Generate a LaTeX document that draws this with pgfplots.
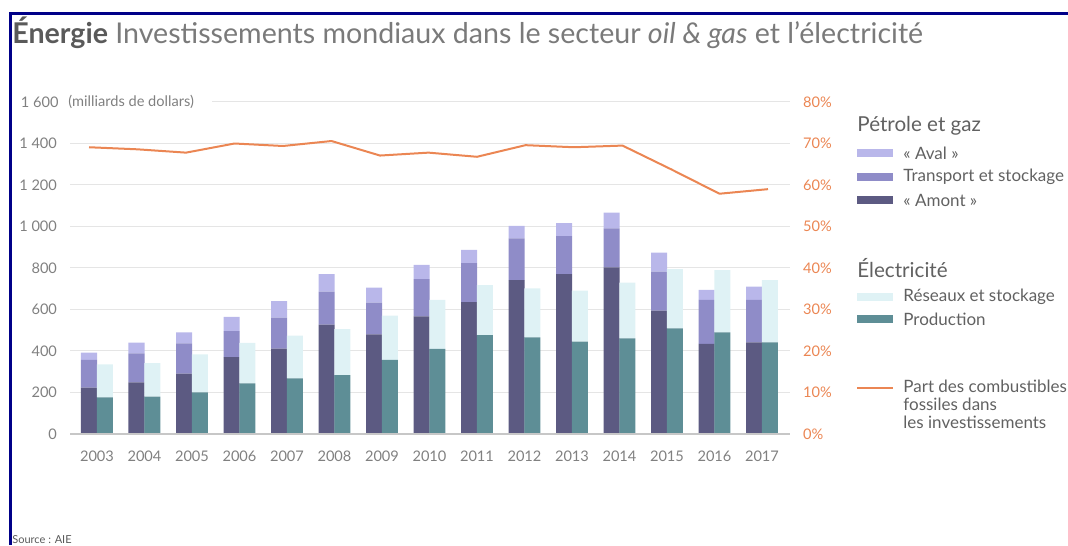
\documentclass[border=0pt]{standalone}
\usepackage{fontspec}
\setmainfont{Lato}
\usepackage{pgfplots}
\pgfplotsset{compat=1.18}

\definecolor{amont}{HTML}{5C5A82}
\definecolor{transp}{HTML}{8F8CC8}
\definecolor{aval}{HTML}{B9B7EA}
\definecolor{prod}{HTML}{5E8E96}
\definecolor{reseau}{HTML}{DFF2F5}
\definecolor{ligne}{HTML}{EB8653}
\definecolor{tickgray}{HTML}{808080}
\definecolor{frameblue}{HTML}{000088}

\newcommand{\tickfont}{\fontsize{7.3}{9}\selectfont}
\newcommand{\legfont}{\fontsize{8.5}{10}\selectfont}
\newcommand{\headfont}{\fontsize{10.3}{12}\selectfont}

\begin{document}
\begin{tikzpicture}[x=0.5pt,y=0.5pt]
\useasboundingbox (0,0) rectangle (1068,545);
% frame
\draw[frameblue,line width=1.5pt] (10.5,0) -- (10.5,531.5) -- (1068,531.5);

% title
\node[anchor=west,font=\fontsize{14.3}{16}\selectfont,inner sep=0pt] at (12,512)
  {\textcolor[HTML]{5A5A5A}{\bfseries Énergie} \textcolor[HTML]{7A7A7A}{Investissements mondiaux dans le secteur \textit{oil \& gas} et l'électricité}};

% oil & gas: amont, transport, aval (stacked increments, milliards $)
\begin{axis}[
  at={(35pt,55.5pt)}, anchor=south west,
  scale only axis, width=360pt, height=166pt,
  xmin=-0.568, xmax=14.59, ymin=0, ymax=1600,
  ybar stacked, bar width=0.337, bar shift=-0.168,
  axis line style={draw=none}, tick style={draw=none},
  ytick={0,200,...,1400},
  yticklabels={0,200,400,600,800,1 000,1 200,1 400},
  ymajorgrids, grid style={draw=black!10, line width=0.5pt},
  xtick={0,...,14},
  xticklabels={2003,2004,2005,2006,2007,2008,2009,2010,2011,2012,2013,2014,2015,2016,2017},
  ticklabel style={font=\tickfont, text=tickgray},
  yticklabel style={xshift=-3pt},
  xticklabel style={yshift=-5pt},
]
\addplot[fill=amont, draw=none] coordinates {(0,223) (1,249) (2,291) (3,370) (4,411) (5,527) (6,480) (7,567) (8,635) (9,742) (10,770) (11,803) (12,594) (13,434) (14,442)};
\addplot[fill=transp, draw=none] coordinates {(0,134) (1,140) (2,146) (3,126) (4,150) (5,159) (6,153) (7,179) (8,188) (9,201) (10,184) (11,188) (12,188) (13,212) (14,204)};
\addplot[fill=aval, draw=none] coordinates {(0,35) (1,51) (2,53) (3,69) (4,79) (5,84) (6,72) (7,69) (8,64) (9,60) (10,62) (11,76) (12,92) (13,48) (14,64)};
\end{axis}

% electricity: production, réseaux et stockage
\begin{axis}[
  at={(35pt,55.5pt)}, anchor=south west,
  scale only axis, width=360pt, height=166pt,
  xmin=-0.568, xmax=14.59, ymin=0, ymax=1600,
  ybar stacked, bar width=0.337, bar shift=0.168,
  hide axis,
]
\addplot[fill=prod, draw=none] coordinates {(0,177) (1,180) (2,201) (3,244) (4,268) (5,284) (6,357) (7,410) (8,477) (9,466) (10,445) (11,461) (12,509) (13,490) (14,442)};
\addplot[fill=reseau, draw=none] coordinates {(0,159) (1,161) (2,183) (3,195) (4,206) (5,222) (6,213) (7,236) (8,241) (9,236) (10,246) (11,268) (12,285) (13,300) (14,300)};
\end{axis}

% baseline and top grid line
\draw[black!22, line width=1pt] (70,111) -- (790,111);
\draw[black!10, line width=0.5pt] (212,443) -- (790,443);
\node[anchor=east, font=\tickfont, text=tickgray, inner sep=0pt] at (59,443) {1 600};
\node[anchor=west, font=\tickfont, text=tickgray, inner sep=0pt] at (68,443) {(milliards de dollars)};

% share of fossil fuels in investments (%)
\begin{axis}[
  at={(35pt,55.5pt)}, anchor=south west,
  scale only axis, width=360pt, height=166pt,
  xmin=-0.392, xmax=14.454, ymin=0, ymax=80,
  hide x axis, axis y line*=right,
  y axis line style={draw=none}, tick style={draw=none},
  ytick={0,10,...,80},
  yticklabel={\pgfmathprintnumber{\tick}\%},
  /pgf/number format/assume math mode=true,
  yticklabel style={font=\tickfont, text=ligne, xshift=3pt},
]
\addplot[ligne, line width=1pt] coordinates {(0,69.1) (1,68.6) (2,67.8) (3,70.0) (4,69.4) (5,70.6) (6,67.1) (7,67.8) (8,66.8) (9,69.6) (10,69.1) (11,69.5) (12,63.8) (13,57.9) (14,59.0)};
\end{axis}

% legend
\begin{scope}[every node/.style={anchor=west, inner sep=0pt, text=black!62}]
\node[font=\headfont] at (857,419) {Pétrole et gaz};
\fill[aval] (857,388) rectangle (893,396);
\node[font=\legfont] at (903,392) {« Aval »};
\fill[transp] (857,364) rectangle (893,372);
\node[font=\legfont] at (903,368) {Transport et stockage};
\fill[amont] (857,341) rectangle (893,349);
\node[font=\legfont] at (903,345) {« Amont »};
\node[font=\headfont] at (857,277) {Électricité};
\fill[reseau] (857,244) rectangle (893,252);
\node[font=\legfont] at (903,248) {Réseaux et stockage};
\fill[prod] (857,222) rectangle (893,230);
\node[font=\legfont] at (903,226) {Production};
\draw[ligne, line width=1pt] (857,157) -- (893,157);
\node[font=\legfont, align=left, anchor=north west] at (903,165)
  {Part des combustibles\\[-1pt]fossiles dans\\[-1pt]les investissements};
\end{scope}

\node[anchor=west, inner sep=0pt, font=\fontsize{5.5}{7}\selectfont, text=black!65] at (12,5) {Source : AIE};
\end{tikzpicture}
\end{document}
